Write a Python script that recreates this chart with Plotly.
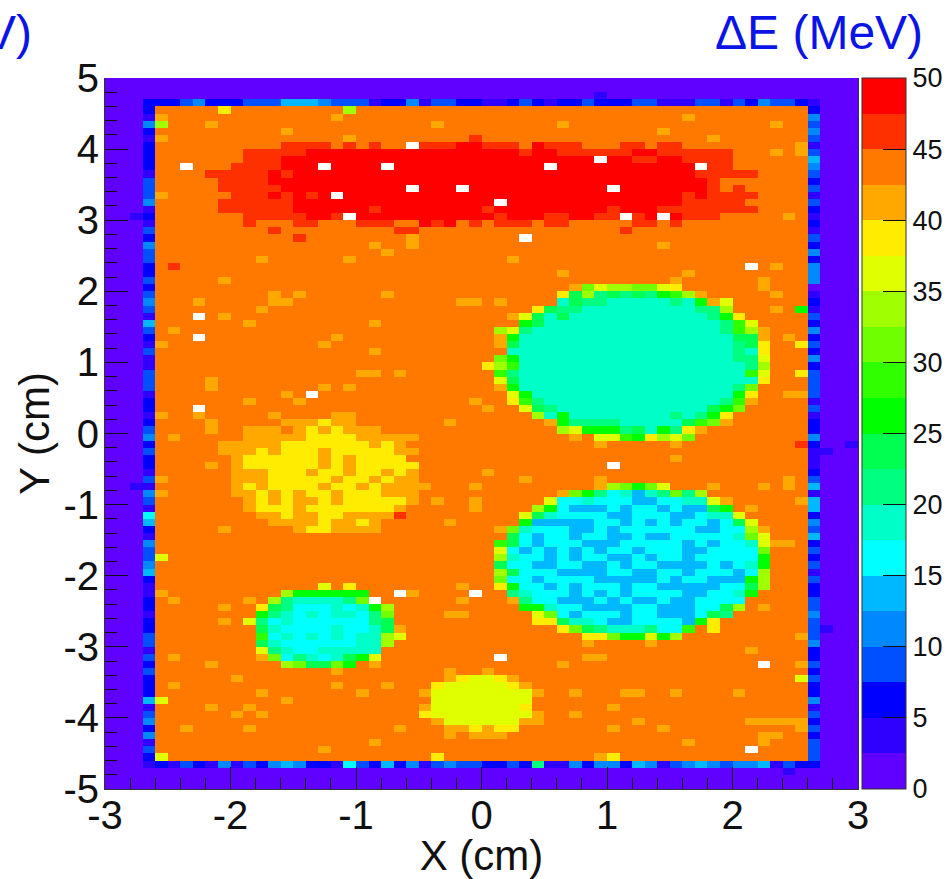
import plotly.graph_objects as go

# Energy-loss map, one character per cell (20 colour bins of 2.5 MeV).
# "." = bin 17 (orange), "_" = empty cell, others = bin in base 20 (0-9, a-j).
BIN_CHARS = "0123456789abcdefghij"
TICKS_X = [-3, -2, -1, 0, 1, 2, 3]
TICK_TEXT_X = ["-3", "-2", "-1", "0", "1", "2", "3"]
TICKS_Y = [-5, -4, -3, -2, -1, 0, 1, 2, 3, 4, 5]
TICK_TEXT_Y = ["-5", "-4", "-3", "-2", "-1", "0", "1", "2", "3", "4", "5"]
BAR_TICKS = [0, 5, 10, 15, 20, 25, 30, 35, 40, 45, 50]
BIN_COLORS = ["#6000ff", "#3000ff", "#0000ff", "#0050ff", "#0088ff", "#00b8ff", "#00ffff",
              "#00ffc8", "#00ff80", "#00ff50", "#00ff00", "#30ff00", "#70ff00", "#a0ff00",
              "#e0ff00", "#ffec00", "#ffa800", "#ff7800", "#ff3000", "#ff0000"]

ring_top = "2" "2234222333" "5554333122" "4133221123" "2122322233" "1113313243" "32" "1"
ring_bottom = "1" "2132141324" "5422163252" "4134332232" "8114244254" "1345434451" "32" "2"
ring_left = ("2142122221" "3334121324" "3322323431" "5321311333" "1221234232"
             "2131431652" "1433452112" "2122331323" "2225134241" "32")
ring_right = ("2434313543" "2313212132" "4244401213" "2423242333" "3131224211"
              "1235155243" "5232313223" "3433342232" "3224132323" "33")
stray_cells = [(-2, 35), (15, -2), (53, -2), (47, 55), (48, 53), (73, 53), (93, 50)]

inner_rows = [
".....f.... .....d....",
"g......... ....g..... .......... .......... ..g",
"d...g..... .......... ..g....... ..g....... .........g",
".......... g......... .......... .......... g",
"g......... .....g.... .....i.... .......... ....g",
".......... iiii.i.i.. _iiijjiii. jiii...ii. ii........ .g",
".......iii iijjjjjjjj jjjjjjjjji jjiiiiiijj iiiiii...g .g",
".......iii jjjjjjjjjj jjjjjjjjjj jjjjj_jjii jjiiii",
".._...iiii jjj_jjjj_j jjjjjjjjjj j_jjjjjjjj jjj_ii",
"....iiiiij ijjjjjjjjj jjjjjjjjjj jjjjjjjjjj jjjiiiii",
".....iiiij jjjjjjjjjj jjjjjjjjjj jjjjjjjjjj jjjji",
".....iiiii jjjjjjjjjj _jjj_jjjjj jjjjjj_jjj jjjji.i",
"g.....iiij ijij_jjjjj jjjjjjjjjj jjjjjjjjjj jjijiiii",
".....iiiii ijjjjjjjjj jjjjjjj_jj jjjjjjjjjj jjiiiii",
".....iiiii ijjjjjjijj jjjjjjijjj jjjjjjijjj iiiiiiii",
".......iii iijji_jjjj jjjjjjjijj jiijjii_ij _jiii..... g",
".......i.. .ii...iii. .jij.i.iii .ii.....ii .i",
".........i .........i i......... .......i",
".......... .i........ g........_",
".......... .......g.. g......... .......... g",
".......... ........g.",
"........g. .....g.... ........g.",
".i........ .......... .......... .......... ......._.g",
".......... .......... .......... ..g....... ..g",
".....g.... .......... .......... .......... .g......g",
".......... .......... .......... ...gceddcc ef......g.",
".........g .g......g. .......... ..f9d89898 abdg.....g",
"...g.....g g......... ....gg.g.. ..79887777 787age",
"........g. .......... .......... f988777777 77788d...g .a",
"..._.g.... .......... ........ge 9797777777 77778af",
".......g.. .......g.. .........a 9777777777 777778be",
".g........ .......... .......de8 7777777777 777778bdg",
"..._...... ....g..... .......ga7 7777777777 77777799g. g",
"g......... ...g...... .......g97 7777777777 77777789f. .f",
".......... .......g.. ........77 7777777777 77777787f",
".......... .......... .......ca7 7777777777 77777788e",
".......... .......... ......fdb7 7777777777 77777778d",
".......... ......gg.g .......b87 7777777777 7777777be. .f",
"....g..... .......... .......e97 7777777777 77777777f",
"....g..... ...g.g.... .......ga7 7777777777 7777778c",
".......... g._....... ........ea 7777777777 777777af.. gg",
".......g.. .g........ .....g..fb 8777777777 777778bg",
"..._...... .......... ......g..e 9877777777 77779ac",
"g..g.....g ....gg.... .......... d7a7777777 7878af",
"....g..... gggfgg.... ...g...... .ga8888777 779bcg",
"....g..ggg .gfgfggg.. .......... ..deaaa897 a8fg",
".g.....ggg ggffffgggg g......... ...g.eebaf dec",
".....ggggg fffffffgfg .......... .....g.... .g........ .i",
".....gggfg fffgfffffg g",
"......gfff fffgfgffff .......... .......... .g",
"....g.gfff fffgfgffff f......... ......_",
"......gggf ffgffgffgf g.....g",
"g.....gggf ffffgffgfg g........g .....g.... .......... g",
"......gfgf fffgffgfgg gg...g.... .....gdcac e...g...g. g",
"g.....ggfg fgffgfffgg g......... ..gca86757 8c8d",
".......gfg fggfgfffff g.g..g.... .e66766655 6677eg.... .g",
".......gff fgfffffffg .....g.... da65556566 56559a.g",
"........gg fggffggggi .........e 9766665566 655677e",
".........g gggfggfg.. ...g.....a 5555566565 6566569e",
".....g.... .gffgggg.. .......gc7 6665565666 6665566dg",
".......... .......... ........96 5665665565 5666667ce",
".......... .......... .......b96 5666555666 66565667eg g",
".......... .......... .......e65 6565656656 66556666c",
"e......... .......... .......d76 6565665565 66566666a",
".......... .......... .......966 5566556566 55556567a",
".......... .......... .......d96 6655556655 66566656d",
".......... .......... .......c66 5666655555 6566555ad",
".......... ...e.f.... ....g..fa6 6565666566 55555669d",
"g......... daaaaaa.._ g...._..87 6665656566 6655667a",
".g.....g.d 877778c_.. ....g...g8 6655565655 6556666",
".....g..f9 8666767ad. .........a a766555566 555669d.g",
"........a8 76767768c. ...gg..... ec65666566 555698",
".....g.e86 766666689. .......... ff97765566 665af",
"........97 666676679g .......... ..fc987778 66b.f",
"........b6 76767677de .......... ....ffcaae ad........ .g",
"........97 66666677d. .......... ....g....g",
"........e8 76677777.. .......... .......... .......g",
".g......gc 687679ae.. ......._.. ....gg....",
"....g..... dc99ca.g.. .......... ..g....... ........_. .g",
".......... ....g..... ...g..g",
"......g... .......... ...gfeefg. .......... .......... .e",
".g........ ....g...g. ..feeeeefg",
"........g. ......g... .geeeeeeee g..g...gg. .g....g",
"e......... g......... ..eeeeeeee",
"....g..g.. .......... .geeeeeeef ......g",
"......g.g. .......... .feeeeeeee g..g",
".......... .......... ..geeeeeeg g.......g. .......ggg gg",
"..g....g.. .........g ...ggfgff. ......g... g......... .g",
".......... .......... ...g.ggg.. .......... ........gg",
".......... .......g.. .......... .......... ..g.....g",
".......... ...g...... .......... .......... ......._",
"e......... .......... ..f....... .....gf",
]

def decode(ch):
    if ch == "_":
        return None
    if ch == ".":
        ch = "h"
    return (BIN_CHARS.index(ch) + 0.5) * 2.5

NX, NY = 60, 100
grid = [[decode("0")] * NX for _ in range(NY)]
for c, ch in enumerate(ring_top):
    grid[3][3 + c] = decode(ch)
for c, ch in enumerate(ring_bottom):
    grid[96][3 + c] = decode(ch)
for r, text in enumerate(inner_rows):
    cells = text.replace(" ", "").ljust(52, ".")
    grid[4 + r][3] = decode(ring_left[r])
    grid[4 + r][56] = decode(ring_right[r])
    for c, ch in enumerate(cells[:52]):
        grid[4 + r][4 + c] = decode(ch)
for r, c in stray_cells:
    grid[4 + r][4 + c] = decode("1")

xs = [round(-2.95 + 0.1 * i, 2) for i in range(NX)]
ys = [round(4.95 - 0.1 * i, 2) for i in range(NY)]

scale = []
for i, col in enumerate(BIN_COLORS):
    scale += [[i / 20, col], [(i + 1) / 20, col]]

FONT = "Liberation Sans, Arial, sans-serif"
INK = "#111111"
BLUE = "#0a14e6"
fig = go.Figure(go.Heatmap(
    x=xs, y=ys[::-1], z=grid[::-1], zmin=0, zmax=50, colorscale=scale, hoverongaps=False,
    colorbar=dict(
        x=(862 - 105) / 753, xanchor="left", xpad=0, y=0.5, yanchor="middle", ypad=0,
        len=1, lenmode="fraction", thickness=44, thicknessmode="pixels",
        tickvals=BAR_TICKS, ticks="inside", ticklen=23, tickcolor=INK, tickwidth=1,
        tickfont=dict(family=FONT, size=27, color=INK),
        outlinecolor="#333333", outlinewidth=1, borderwidth=0,
    ),
))
fig.update_layout(
    width=947, height=879, margin=dict(l=105, r=89, t=78, b=90, pad=0, autoexpand=False),
    paper_bgcolor="white", plot_bgcolor="white", showlegend=False,
    font=dict(family=FONT, color=INK),
    annotations=[
        dict(text="ΔE (MeV)", xref="paper", yref="paper", x=(925 - 105) / 753, y=(789 - 32) / 711,
             xanchor="right", yanchor="middle", showarrow=False, font=dict(family=FONT, size=48, color=BLUE)),
        dict(text="V)", xref="paper", yref="paper", x=(34 - 105) / 753, y=(789 - 32) / 711,
             xanchor="right", yanchor="middle", showarrow=False, font=dict(family=FONT, size=48, color=BLUE)),
    ],
)
fig.update_xaxes(
    range=[-3, 3], tickvals=TICKS_X, ticktext=TICK_TEXT_X, ticks="inside", ticklen=22, tickwidth=1,
    tickcolor=INK, tickfont=dict(family=FONT, size=40, color=INK), ticklabelstandoff=-9,
    minor=dict(dtick=0.2, tick0=0, ticks="inside", ticklen=11, tickcolor=INK, tickwidth=1),
    showgrid=False, zeroline=False, showline=True, linecolor="#333333", linewidth=1, mirror=False,
    automargin=True,
    title=dict(text="X (cm)", font=dict(family=FONT, size=42, color=INK), standoff=9),
)
fig.update_yaxes(
    range=[-5, 5], tickvals=TICKS_Y, ticktext=TICK_TEXT_Y, ticks="inside", ticklen=23, tickwidth=1,
    tickcolor=INK, tickfont=dict(family=FONT, size=40, color=INK), ticklabelstandoff=-3,
    minor=dict(dtick=0.2, tick0=0, ticks="inside", ticklen=12, tickcolor=INK, tickwidth=1),
    showgrid=False, zeroline=False, showline=True, linecolor="#333333", linewidth=1, mirror=True,
    automargin=True,
    title=dict(text="Y (cm)", font=dict(family=FONT, size=42, color=INK), standoff=0),
)
fig.write_html("out.html", config={"displayModeBar": False},
               post_script="document.body.style.margin='0';document.body.style.overflow='hidden';")
